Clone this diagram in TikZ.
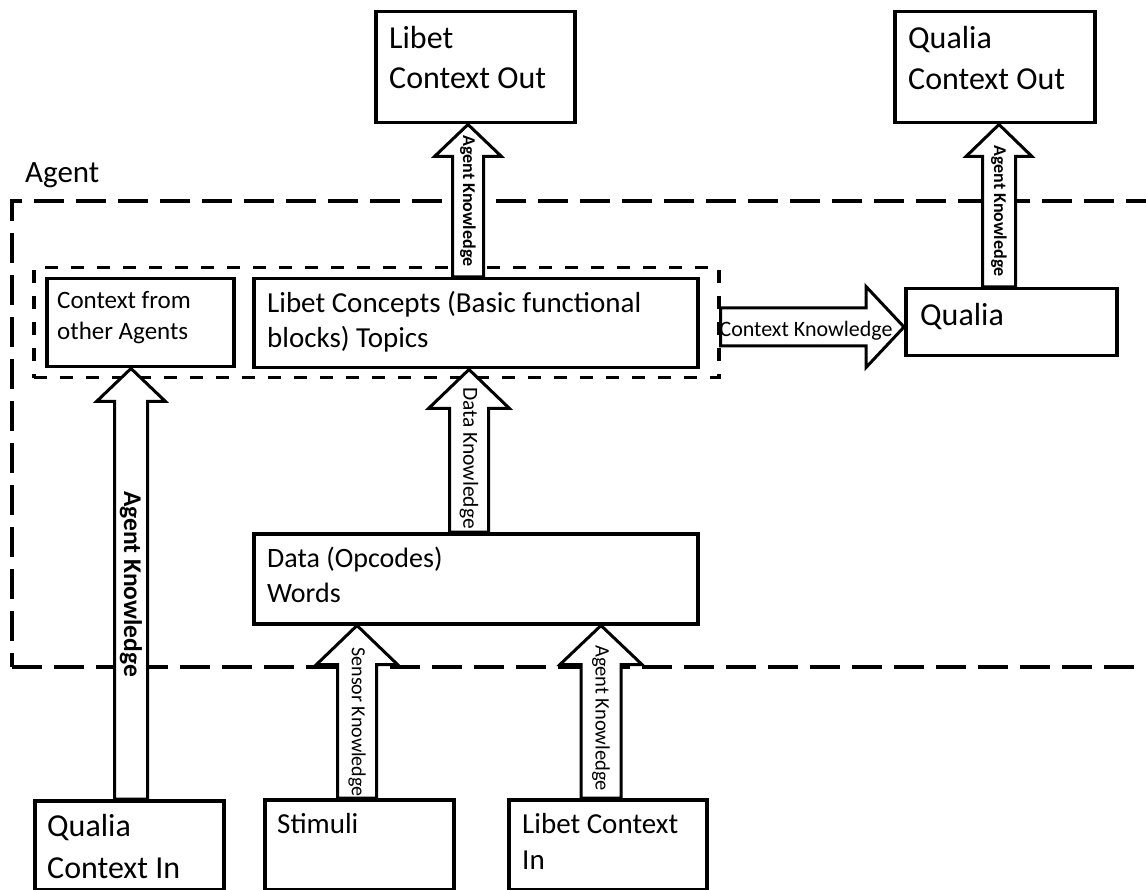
\documentclass[tikz,border=0pt]{standalone}
\usepackage{fontspec}
\setmainfont{Carlito}
\usetikzlibrary{calc}
\pgfdeclarelayer{bg}
\pgfdeclarelayer{arr}
\pgfsetlayers{bg,arr,main}
\tikzset{
  box/.style={draw, line width=3.5pt, fill=white, rectangle, inner sep=0pt, anchor=north west},
  outerd/.style={draw, line width=4pt, dash pattern=on 30pt off 12pt, rectangle, inner sep=0pt, anchor=north west},
  innerd/.style={draw, line width=3.5pt, dash pattern=on 13pt off 13pt, rectangle, inner sep=0pt, anchor=north west},
  txt/.style={anchor=north west, inner sep=0pt, align=left},
  blk/.style={draw, line width=3pt, fill=white, line join=miter},
  alab/.style={inner sep=0pt, rotate=-90},
}
% vertical block arrow: x, from anchor, to anchor, shaft half, head half, head length
\newcommand{\vblk}[6]{%
  \filldraw[blk] let \p1=(#1,0 |- #2), \p2=(#1,0 |- #3) in
    (\x1-#4,\y1) -- (\x1-#4,\y2-#6) -- (\x1-#5,\y2-#6) -- (\x2,\y2)
    -- (\x1+#5,\y2-#6) -- (\x1+#4,\y2-#6) -- (\x1+#4,\y1) -- cycle;}
\begin{document}
\begin{tikzpicture}[x=1pt,y=-1pt]
\useasboundingbox (0,0) rectangle (1146,890);

% boxes
\node[box, minimum width=199, minimum height=111] (lco) at (374,10) {};
\node[box, minimum width=200, minimum height=111] (qco) at (893,10) {};
\node[box, minimum width=187, minimum height=88] (cfa) at (45,277) {};
\node[box, minimum width=444, minimum height=89] (lc) at (252,277) {};
\node[box, minimum width=211, minimum height=67] (qua) at (904,287) {};
\node[box, minimum width=444, minimum height=90] (dat) at (252,532) {};
\node[box, minimum width=189, minimum height=89] (qci) at (33,799) {};
\node[box, minimum width=189, minimum height=90] (sti) at (263,798) {};
\node[box, minimum width=198, minimum height=90] (lci) at (507,798) {};

% texts
\node[txt, font=\fontsize{32}{40}\selectfont] (tlco) at (389,24) {\rule{0pt}{0.75em}Libet\\Context Out};
\node[txt, font=\fontsize{32}{41}\selectfont] (tqco) at (908,24) {\rule{0pt}{0.75em}Qualia\\Context Out};
\node[txt, font=\fontsize{25}{31}\selectfont] (tcfa) at (57,289.25) {\rule{0pt}{0.75em}Context from\\other Agents};
\node[txt, font=\fontsize{29}{35}\selectfont] (tlc) at (267,290.25) {\rule{0pt}{0.75em}Libet Concepts (Basic functional\\blocks) Topics};
\node[txt, font=\fontsize{32}{40}\selectfont] (tqua) at (920,301) {\rule{0pt}{0.75em}Qualia};
\node[txt, font=\fontsize{28}{35}\selectfont] (tdat) at (267,546) {\rule{0pt}{0.75em}Data (Opcodes)\\Words};
\node[txt, font=\fontsize{32}{42}\selectfont] (tqci) at (47,812) {\rule{0pt}{0.75em}Qualia\\Context In};
\node[txt, font=\fontsize{29}{36}\selectfont] (tsti) at (277,811.25) {\rule{0pt}{0.75em}Stimuli};
\node[txt, font=\fontsize{29}{36}\selectfont] (tlci) at (522,811.25) {\rule{0pt}{0.75em}Libet Context\\In};
\node[txt, font=\fontsize{31}{38}\selectfont] (tagent) at (25,158.75) {\rule{0pt}{0.75em}Agent};

% dashed containers
\begin{pgfonlayer}{bg}
\node[outerd, minimum width=1137, minimum height=466] (agent) at (10,199) {};
\node[innerd, minimum width=685, minimum height=110] (grp) at (32,266) {};
\end{pgfonlayer}

% block arrows
\begin{pgfonlayer}{arr}
\vblk{468}{lc.north}{lco.south}{15.5pt}{33.5pt}{32pt}
\node[alab, font=\bfseries\fontsize{18}{20}\selectfont] (l1) at (468,201) {Agent Knowledge};
\vblk{999}{qua.north}{qco.south}{16.5pt}{33pt}{32pt}
\node[alab, font=\bfseries\fontsize{18}{20}\selectfont] (l2) at (999,211) {Agent Knowledge};
\vblk{469}{dat.north}{lc.south}{19.5pt}{40.5pt}{39pt}
\node[alab, font=\fontsize{21.5}{24}\selectfont] (l3) at (469,458) {Data Knowledge};
\vblk{357}{sti.north}{dat.south}{19.5pt}{40.5pt}{39pt}
\node[alab, font=\fontsize{20}{24}\selectfont] (l4) at (357,722) {Sensor Knowledge};
\vblk{601}{lci.north}{dat.south}{20pt}{41pt}{39pt}
\node[alab, font=\fontsize{20.5}{24}\selectfont] (l5) at (601,718) {Agent Knowledge};
\vblk{131}{qci.north}{cfa.south}{16.5pt}{34.5pt}{33pt}
\node[alab, font=\bfseries\fontsize{25.5}{28}\selectfont] (l6) at (131,584) {Agent Knowledge};
% horizontal arrow
\filldraw[blk] let \p1=(grp.east |- 0,327), \p2=(qua.west |- 0,327) in
  (\x1,\y1-19pt) -- (\x2-38pt,\y1-19pt) -- (\x2-38pt,\y1-40.5pt) -- (\x2,\y1)
  -- (\x2-38pt,\y1+40.5pt) -- (\x2-38pt,\y1+19pt) -- (\x1,\y1+19pt) -- cycle;
\node[inner sep=0pt, font=\fontsize{22}{24}\selectfont] (l7) at (806,331) {Context Knowledge};
\end{pgfonlayer}
\end{tikzpicture}
\end{document}
